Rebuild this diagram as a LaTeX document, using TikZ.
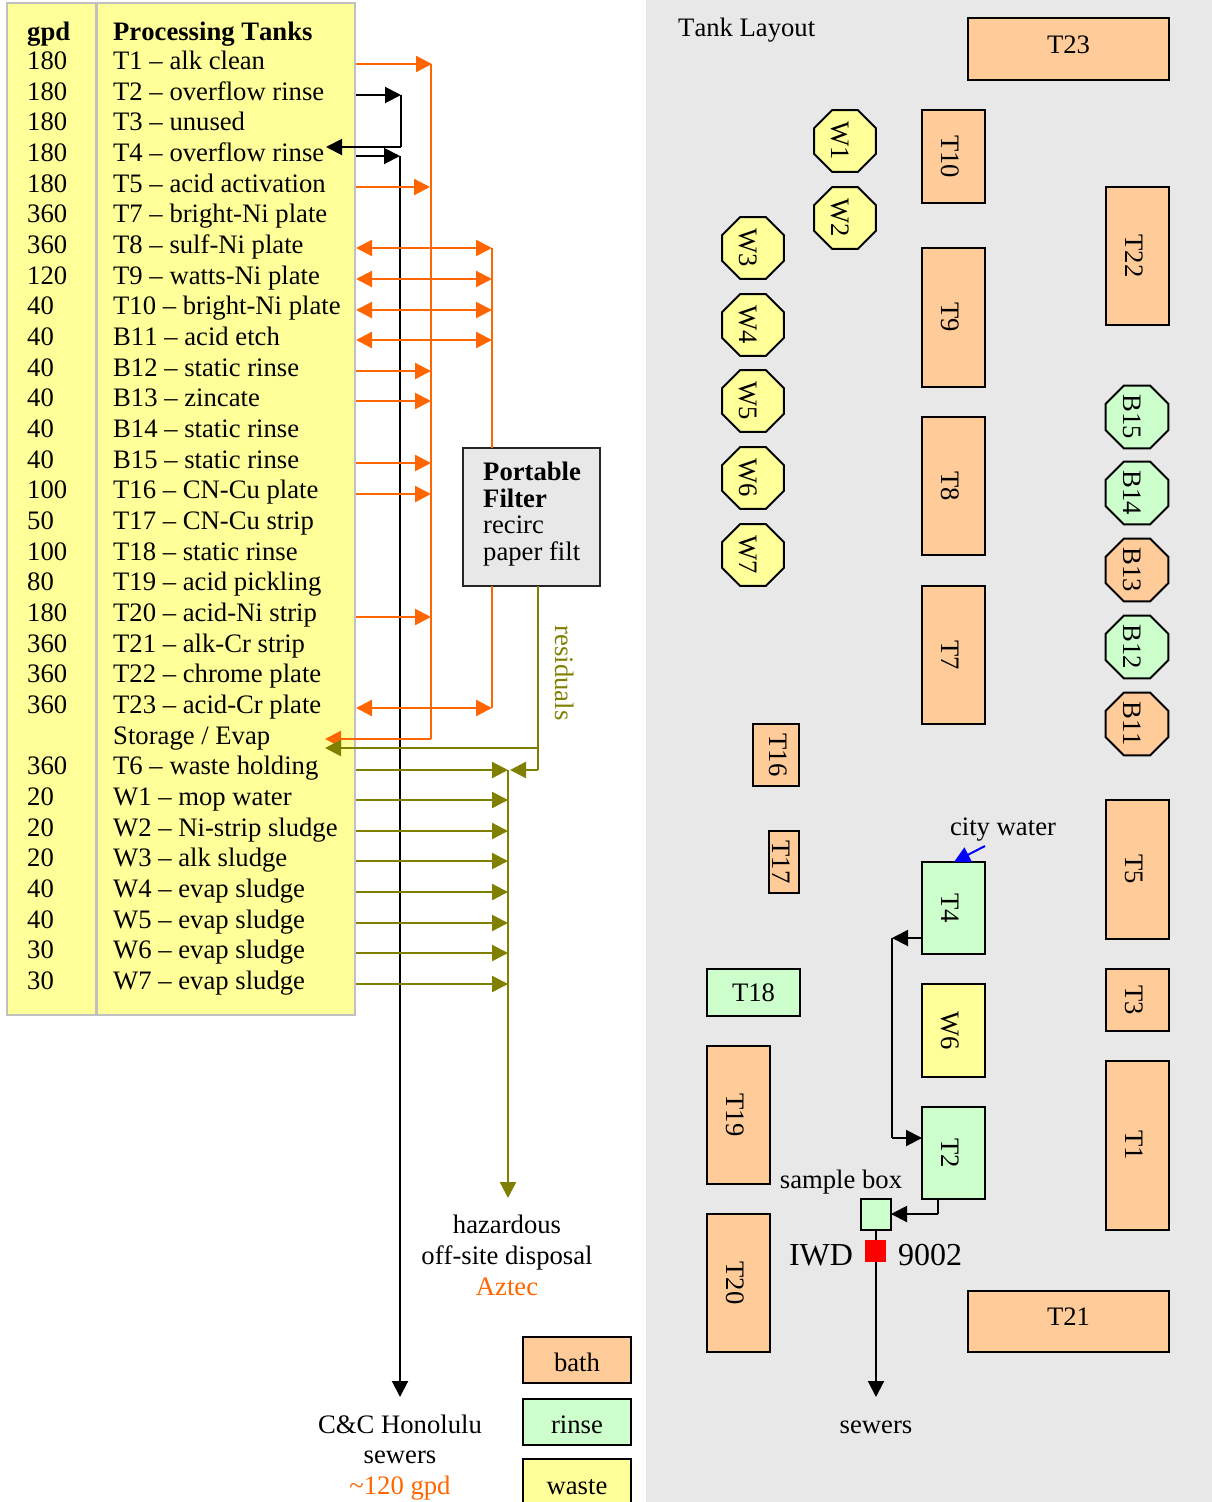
\documentclass[tikz,border=0pt]{standalone}
\usepackage{fontspec}
\setmainfont{Liberation Serif}[Kerning=Off]
\usetikzlibrary{arrows.meta,shapes.geometric}
\definecolor{bath}{HTML}{FFCC99}
\definecolor{rinse}{HTML}{CCFFCC}
\definecolor{waste}{HTML}{FFFF99}
\definecolor{panel}{HTML}{E8E8E8}
\definecolor{rule}{HTML}{C0C0C0}
\definecolor{hot}{HTML}{FF6600}
\definecolor{oliv}{HTML}{808000}
\tikzset{
  base font/.style={font=\fontsize{26.67}{30}\selectfont},
  txt/.style={base font,inner sep=0pt,anchor=base,text=black},
  txtw/.style={txt,anchor=base west},
  tank/.style={draw=black,line width=2pt,base font,inner sep=0pt,outer sep=0pt,text=black},
  vtank/.style={tank,rotate=-90},
  oct/.style={tank,regular polygon,regular polygon sides=8,minimum size=67pt,rotate=-90,text height=28pt,text depth=0pt},
  tip/.style={-{Triangle[length=16pt,width=16pt]}},
  dtip/.style={{Triangle[length=16pt,width=16pt]}-{Triangle[length=16pt,width=16pt]}},
  hotline/.style={draw=hot,line width=2.3pt},
  olivline/.style={draw=oliv,line width=2.3pt},
  blackline/.style={draw=black,line width=2pt},
}
\begin{document}
\begin{tikzpicture}[x=1pt,y=-1pt]
\clip (0,0) rectangle (1212,1502);
\fill[white] (0,0) rectangle (1212,1502);
\fill[panel] (646,0) rectangle (1212,1502);
% table
\node[draw=rule,fill=waste,line width=2.5pt,minimum width=348pt,minimum height=1012pt,inner sep=0pt,outer sep=0pt] (tbl) at (181,509) {};
\coordinate (dtop) at (96.5,3);
\coordinate (dbot) at (96.5,1015);
\draw[rule,line width=2.5pt] (dtop) -- (dbot);
\node[txtw,font=\fontsize{26.67}{30}\selectfont\bfseries] (hg) at (27,40) {gpd};
\node[txtw,font=\fontsize{26.67}{30}\selectfont\bfseries] (hp) at (113,40) {Processing Tanks};
\foreach \g/\rowtxt [count=\i] in {180/{T1 – alk clean},180/{T2 – overflow rinse},180/{T3 – unused},180/{T4 – overflow rinse},180/{T5 – acid activation},360/{T7 – bright-Ni plate},360/{T8 – sulf-Ni plate},120/{T9 – watts-Ni plate},40/{T10 – bright-Ni plate},40/{B11 – acid etch},40/{B12 – static rinse},40/{B13 – zincate},40/{B14 – static rinse},40/{B15 – static rinse},100/{T16 – CN-Cu plate},50/{T17 – CN-Cu strip},100/{T18 – static rinse},80/{T19 – acid pickling},180/{T20 – acid-Ni strip},360/{T21 – alk-Cr strip},360/{T22 – chrome plate},360/{T23 – acid-Cr plate},{}/{Storage / Evap},360/{T6 – waste holding},20/{W1 – mop water},20/{W2 – Ni-strip sludge},20/{W3 – alk sludge},40/{W4 – evap sludge},40/{W5 – evap sludge},30/{W6 – evap sludge},30/{W7 – evap sludge}}{
  \pgfmathsetmacro\yy{69.5+(\i-1)*30.67}
  \node[txtw] (g\i) at (27,\yy) {\g};
  \node[txtw] (r\i) at (113,\yy) {\rowtxt};
}
% filter
\node[draw=black!85,fill=panel,line width=2pt,minimum width=137pt,minimum height=138pt,inner sep=0pt,outer sep=0pt] (filter) at (531.5,517) {};
\node[txtw,font=\fontsize{26.67}{30}\selectfont\bfseries] (f1) at (483,480) {Portable};
\node[txtw,font=\fontsize{26.67}{30}\selectfont\bfseries] (f2) at (483,507) {Filter};
\node[txtw] (f3) at (483,533) {recirc};
\node[txtw] (f4) at (483,560) {paper filt};
\node[base font,inner sep=0pt,text=oliv,rotate=-90] (resid) at (565,673) {residuals};
% black connectors
\coordinate (e2) at (356,95); \coordinate (b2) at (401,95);
\coordinate (b4) at (401,147); \coordinate (r4tip) at (326,147);
\coordinate (e4) at (356,156); \coordinate (s4) at (400,156);
\coordinate (sewers) at (400,1397);
\draw[blackline,tip] (e2) -- (b2);
\draw[blackline] (b2) -- (b4);
\draw[blackline,tip] (b4) -- (r4tip);
\draw[blackline,tip] (e4) -- (s4);
\draw[blackline,tip] (s4) -- (sewers);
% orange collector
\foreach \n/\y/\xe in {T1/64/432,T5/187/430,B12/371/431,B13/401/431,B15/463/431,T16/494/431,T20/617/431}{
  \coordinate (e\n) at (356,\y);
  \coordinate (c\n) at (\xe,\y);
  \draw[hotline,tip] (e\n) -- (c\n);
}
\coordinate (ctop) at (431,64);
\coordinate (cbot) at (431,739);
\coordinate (stor) at (325,739);
\draw[hotline] (ctop) -- (cbot);
\draw[hotline,tip] (cbot) -- (stor);
% orange recirculation
\foreach \n/\y in {T8/248,T9/279,T10/310,B11/340,T23/708}{
  \coordinate (e\n) at (356,\y);
  \coordinate (d\n) at (492,\y);
  \draw[hotline,dtip] (e\n) -- (d\n);
}
\draw[hotline] (dT8) -- (dT8 |- filter.north);
\draw[hotline] (dT23 |- filter.south) -- (dT23);
% olive
\coordinate (ofrom) at (538,586);
\coordinate (omid) at (538,748);
\coordinate (olow) at (538,770);
\coordinate (ostor) at (325,748);
\coordinate (oin) at (510,770);
\draw[olivline] (ofrom) -- (omid);
\draw[olivline,tip] (omid) -- (ostor);
\draw[olivline] (omid) -- (olow);
\draw[olivline,tip] (olow) -- (oin);
\foreach \n/\y in {T6/770,W1/800,W2/831,W3/861,W4/892,W5/923,W6/953,W7/984}{
  \coordinate (e\n) at (356,\y);
  \coordinate (h\n) at (508,\y);
  \draw[olivline,tip] (e\n) -- (h\n);
}
\coordinate (haz) at (508,1198);
\draw[olivline,tip] (hT6) -- (haz);
% lower labels
\node[txt] (h1) at (507,1233) {hazardous};
\node[txt] (h2) at (507,1264) {off-site disposal};
\node[txt,text=hot] (h3) at (507,1295) {Aztec};
\node[txt] (c1) at (400,1433) {C\&C Honolulu};
\node[txt] (c2) at (400,1463) {sewers};
\node[txt,text=hot] (c3) at (400,1494) {\textasciitilde 120 gpd};
% legend
\node[tank,fill=bath,minimum width=108pt,minimum height=46pt] (lb) at (577,1360) {};
\node[txt] at (577,1371) {bath};
\node[tank,fill=rinse,minimum width=108pt,minimum height=46pt] (lr) at (577,1421.5) {};
\node[txt] at (577,1433) {rinse};
\node[tank,fill=waste,minimum width=108pt,minimum height=46pt] (lw) at (577,1482) {};
\node[txt] at (577,1494) {waste};
% layout
\node[txtw] (tl) at (678,36) {Tank Layout};
\node[tank,fill=bath,minimum width=201pt,minimum height=62pt,text depth=8pt] (T23) at (1068.5,49) {T23};
\node[tank,fill=bath,minimum width=201pt,minimum height=61pt,text depth=10pt] (T21) at (1068.5,1321.5) {T21};
\node[tank,fill=rinse,minimum width=93pt,minimum height=47pt] (T18) at (753.5,992.5) {T18};
\foreach \nm/\cx/\cy/\len/\wid/\col/\th/\td in {
 T10/953.5/156.5/93/63/bath/24/0, T22/1137.5/256/138/63/bath/24/0, T9/953.5/317.5/139/63/bath/24/0,
 T8/953.5/486/138/63/bath/24/0, T7/953.5/655/138/63/bath/24/0, T16/776/755/62/46/bath/18/4,
 T17/784/862/62/30/bath/24/0, T5/1137.5/869.5/139/63/bath/24/0, T4/953.5/908/92/63/rinse/24/0,
 T3/1137.5/1000/62/63/bath/24/0, T19/738.5/1115/138/63/bath/24/0, T1/1137.5/1145.5/169/63/bath/24/0,
 T2/953.5/1153/92/63/rinse/24/0, T20/738.5/1283/138/63/bath/24/0}{
  \node[vtank,fill=\col,minimum width=\len pt,minimum height=\wid pt,text height=\th pt,text depth=\td pt] (\nm) at (\cx,\cy) {\nm};
}
\node[vtank,fill=waste,minimum width=93pt,minimum height=63pt,text height=24pt,text depth=0pt] (tW6) at (953.5,1030.5) {W6};
\foreach \nm/\cx/\cy/\col in {W1/845/141/waste,W2/845/218/waste,W3/753/248/waste,W4/753/325/waste,W5/753/401/waste,W6/753/478/waste,W7/753/555/waste,B15/1137/417/rinse,B14/1137/493/rinse,B13/1137/570/bath,B12/1137/647/rinse,B11/1137/724/bath}{
  \node[oct,fill=\col] (o\nm) at (\cx,\cy) {\nm};
}
\node[txt] (cw) at (1003,835) {city water};
\coordinate (cwfrom) at (985,846);
\coordinate (cwto) at (954,862);
\draw[draw=blue,line width=2pt,tip,fill=blue] (cwfrom) -- (cwto);
\node[txt] (sb) at (841,1188) {sample box};
\node[tank,fill=rinse,minimum width=30pt,minimum height=31pt] (box) at (876,1214.5) {};
\node[txt,font=\fontsize{32}{36}\selectfont] (iwd) at (821,1265) {IWD};
\node[txt,font=\fontsize{32}{36}\selectfont] (n9) at (930,1265) {9002};
\coordinate (ssew) at (876,1397);
\draw[blackline,tip] (box.south) -- (ssew);
\node[fill=red,minimum width=21pt,minimum height=22pt,inner sep=0pt] (red) at (875.5,1251) {};
\node[txt] (s2) at (876,1433) {sewers};
\coordinate (j1) at (892,938);
\coordinate (j2) at (892,1138);
\coordinate (j3) at (938,1214);
\draw[blackline,tip] (T4.south |- j1) -- (j1);
\draw[blackline] (j1) -- (j2);
\draw[blackline,tip] (j2) -- (T2.south |- j2);
\draw[blackline] (T2.east -| j3) -- (j3);
\draw[blackline,tip] (j3) -- (box.east |- j3);
\end{tikzpicture}
\end{document}
